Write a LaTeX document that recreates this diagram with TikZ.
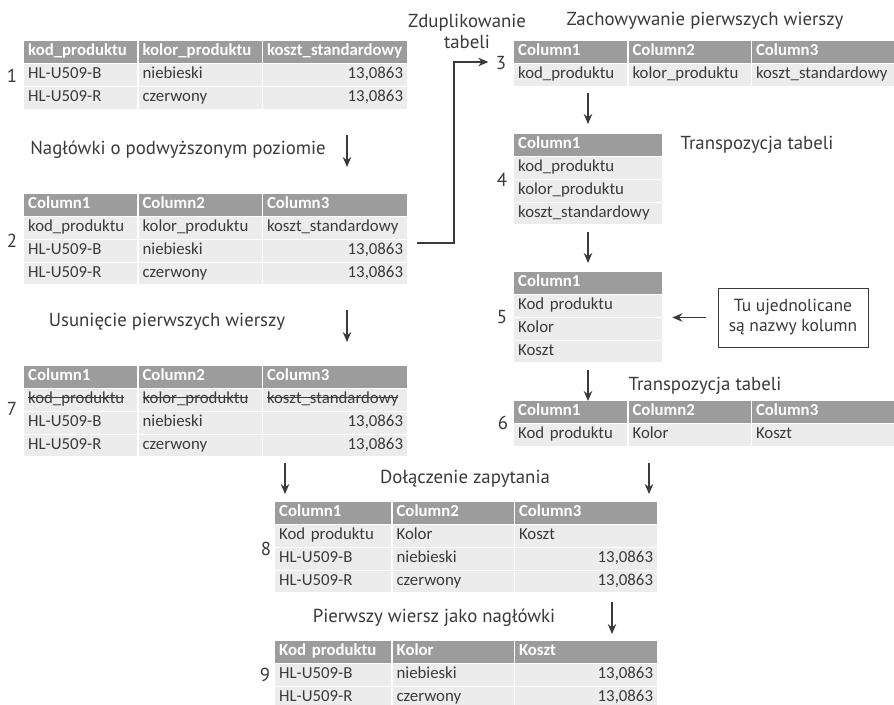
\documentclass[tikz,border=0pt]{standalone}
\usepackage{fontspec}
\setmainfont{PT Sans}
\newfontfamily\calfont{Carlito}
\usetikzlibrary{positioning,arrows.meta}

\definecolor{hdrgray}{HTML}{9C9C9C}
\definecolor{rowgray}{HTML}{ECECEC}
\definecolor{inkgray}{HTML}{3A3A3A}

\tikzset{
  cell/.style={inner xsep=4pt, inner ysep=0pt, minimum height=21.5pt, text height=10pt, text depth=3pt, align=left},
  hdr/.style={cell, fill=hdrgray, text=white, font=\calfont\bfseries\fontsize{16.8}{18}\selectfont},
  row/.style={cell, fill=rowgray, text=inkgray, font=\calfont\fontsize{16.8}{18}\selectfont},
  lbl/.style={text=inkgray, font=\fontsize{18.8}{21}\selectfont, align=center},
  arr/.style={draw=inkgray, line width=1.4pt, -{Stealth[length=10pt,width=8.5pt]}},
}

% one row of a three column table: name, style, placement, texts
\newcommand{\trow}[6]{%
  \node[#2, text width=\wa, #3] (#1a) {#4};
  \node[#2, text width=\wb, right=1pt of #1a] (#1b) {#5};
  \node[#2, text width=\wc, right=1pt of #1b] (#1c) {#6};
}
% struck out cell text
\newcommand{\strk}[1]{\setbox0\hbox{#1}\rlap{\rule[0.3em]{\wd0}{0.08em}}\box0}

\begin{document}
\begin{tikzpicture}[x=1pt,y=1pt,yscale=-1,xscale=1]
\useasboundingbox[fill=white] (0,0) rectangle (894,704);
\clip (0,0) rectangle (894,704);

%Table 1
\def\wa{105pt}\def\wb{115pt}\def\wc{136pt}
\trow{t1h}{hdr}{anchor=north west, at={(24,41)}}{kod\_produktu}{kolor\_produktu}{koszt\_standardowy}
\trow{t1r1}{row}{below=1pt of t1ha}{HL-U509-B}{niebieski}{\hspace*{\fill}13,0863}
\trow{t1r2}{row}{below=1pt of t1r1a}{HL-U509-R}{czerwony}{\hspace*{\fill}13,0863}

%Table 2
\trow{t2h}{hdr}{anchor=north west, at={(24,194)}}{Column1}{Column2}{Column3}
\trow{t2r1}{row}{below=1pt of t2ha}{kod\_produktu}{kolor\_produktu}{koszt\_standardowy}
\trow{t2r2}{row}{below=1pt of t2r1a}{HL-U509-B}{niebieski}{\hspace*{\fill}13,0863}
\trow{t2r3}{row}{below=1pt of t2r2a}{HL-U509-R}{czerwony}{\hspace*{\fill}13,0863}

%Table 7
\trow{t7h}{hdr}{anchor=north west, at={(24,366)}}{Column1}{Column2}{Column3}
\trow{t7r1}{row}{below=1pt of t7ha}{\strk{kod\_produktu}}{\strk{kolor\_produktu}}{\strk{koszt\_standardowy}}
\trow{t7r2}{row}{below=1pt of t7r1a}{HL-U509-B}{niebieski}{\hspace*{\fill}13,0863}
\trow{t7r3}{row}{below=1pt of t7r2a}{HL-U509-R}{czerwony}{\hspace*{\fill}13,0863}

%Table 3
\def\wa{105pt}\def\wb{114pt}\def\wc{137pt}
\trow{t3h}{hdr}{anchor=north west, at={(514,41)}}{Column1}{Column2}{Column3}
\trow{t3r1}{row}{below=1pt of t3ha}{kod\_produktu}{kolor\_produktu}{koszt\_standardowy}

%Table 6
\trow{t6h}{hdr}{anchor=north west, at={(514,401)}}{Column1}{Column2}{Column3}
\trow{t6r1}{row}{below=1pt of t6ha}{Kod produktu}{Kolor}{Koszt}

%Table 4
\node[hdr, text width=140pt, anchor=north west, at={(514,134)}] (t4h) {Column1};
\node[row, text width=140pt, below=1pt of t4h] (t4r1) {kod\_produktu};
\node[row, text width=140pt, below=1pt of t4r1] (t4r2) {kolor\_produktu};
\node[row, text width=140pt, below=1pt of t4r2] (t4r3) {koszt\_standardowy};

%Table 5
\node[hdr, text width=140pt, anchor=north west, at={(514,272)}] (t5h) {Column1};
\node[row, text width=140pt, below=1pt of t5h] (t5r1) {Kod produktu};
\node[row, text width=140pt, below=1pt of t5r1] (t5r2) {Kolor};
\node[row, text width=140pt, below=1pt of t5r2] (t5r3) {Koszt};

%Table 8
\def\wa{108pt}\def\wb{113pt}\def\wc{134pt}
\trow{t8h}{hdr}{anchor=north west, at={(275,502)}}{Column1}{Column2}{Column3}
\trow{t8r1}{row}{below=1pt of t8ha}{Kod produktu}{Kolor}{Koszt}
\trow{t8r2}{row}{below=1pt of t8r1a}{HL-U509-B}{niebieski}{\hspace*{\fill}13,0863}
\trow{t8r3}{row}{below=1pt of t8r2a}{HL-U509-R}{czerwony}{\hspace*{\fill}13,0863}

%Table 9
\trow{t9h}{hdr}{anchor=north west, at={(275,641)}}{Kod produktu}{Kolor}{Koszt}
\trow{t9r1}{row}{below=1pt of t9ha}{HL-U509-B}{niebieski}{\hspace*{\fill}13,0863}
\trow{t9r2}{row}{below=1pt of t9r1a}{HL-U509-R}{czerwony}{\hspace*{\fill}13,0863}

% Number Nodes
\node[lbl] (n1) at (12,76) {1};
\node[lbl] (n2) at (12,241) {2};
\node[lbl] (n7) at (12,409) {7};
\node[lbl] (n3) at (501,63) {3};
\node[lbl] (n4) at (502,180) {4};
\node[lbl] (n5) at (502,317) {5};
\node[lbl] (n6) at (503,423) {6};
\node[lbl] (n8) at (266,549) {8};
\node[lbl] (n9) at (265,675) {9};

% Text Nodes
\node[lbl] (dup) at (467,31) {Zduplikowanie\\tabeli};
\node[lbl] (keep) at (705,21) {Zachowywanie pierwszych wierszy};
\node[lbl] (promote) at (178,150) {Nagłówki o podwyższonym poziomie};
\node[lbl] (transp1) at (757,145) {Transpozycja tabeli};
\node[lbl] (remove) at (167,322) {Usunięcie pierwszych wierszy};
\node[lbl] (transp2) at (705,386) {Transpozycja tabeli};
\node[lbl] (append) at (465,479) {Dołączenie zapytania};
\node[lbl] (firstrow) at (434,618) {Pierwszy wiersz jako nagłówki};
\node[lbl, draw=inkgray, line width=1pt, minimum width=150pt, minimum height=59pt, font=\fontsize{17.5}{20}\selectfont] (note) at (793,317.5) {Tu ujednolicane\\są nazwy kolumn};

% Arrow ends
\coordinate (a12s) at (347,135);  \coordinate (a12e) at (347,167);
\coordinate (a27s) at (347,310);  \coordinate (a27e) at (347,342);
\coordinate (a34s) at (588,93);   \coordinate (a34e) at (588,124);
\coordinate (a45s) at (588,232);  \coordinate (a45e) at (588,263);
\coordinate (a56s) at (588,370);  \coordinate (a56e) at (588,401);
\coordinate (a78s) at (285,463);  \coordinate (a78e) at (285,494);
\coordinate (a68s) at (649,463);  \coordinate (a68e) at (649,494);
\coordinate (a89s) at (612,602);  \coordinate (a89e) at (612,634);
\coordinate (e2) at (417,243);
\coordinate (k3) at (454,62);

% Arrows
\draw[arr] (a12s) -- (a12e);
\draw[arr] (a27s) -- (a27e);
\draw[arr] (a34s) -- (a34e);
\draw[arr] (a45s) -- (a45e);
\draw[arr] (a56s) -- (a56e);
\draw[arr] (a78s) -- (a78e);
\draw[arr] (a68s) -- (a68e);
\draw[arr] (a89s) -- (a89e);
\draw[arr] (e2) -| (k3) -- ([xshift=-4pt]n3.west |- k3);
\draw[arr] ([xshift=-12pt]note.west) -- ([xshift=10pt]t5r1.east |- note.west);

\end{tikzpicture}
\end{document}
